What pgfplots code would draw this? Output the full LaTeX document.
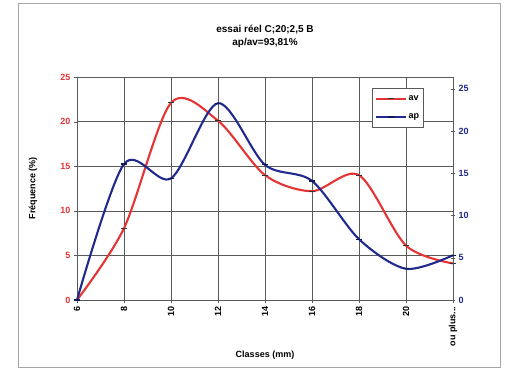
\documentclass[border=0pt]{standalone}
\usepackage{pgfplots}
\pgfplotsset{compat=1.18}
\usepackage{fontspec}
\setmainfont{Liberation Sans}
\definecolor{avred}{RGB}{228,52,52}
\definecolor{apblue}{RGB}{32,42,140}
\definecolor{gridc}{RGB}{90,90,90}
\begin{document}
\begin{tikzpicture}[x=1pt,y=1pt]
\useasboundingbox (0,0) rectangle (518,376);
\draw[gray!70, line width=0.8pt] (18,9) rectangle (500,373);
\node[align=center, font=\fontsize{10}{13}\selectfont\bfseries] at (265,340) {essai réel C;20;2,5 B\\ap/av=93,81\%};
\node[font=\fontsize{9}{11}\selectfont\bfseries] at (265,21) {Classes (mm)};
\node[font=\fontsize{9}{11}\selectfont\bfseries, rotate=90] at (33,188) {Fréquence (\%)};
\begin{axis}[
  at={(77pt,76pt)}, anchor=south west,
  scale only axis, width=376pt, height=223pt,
  xmin=0, xmax=8, ymin=0, ymax=25,
  xtick={0,1,2,3,4,5,6,7,8},
  xticklabels={6,8,10,12,14,16,18,20,{ou plus{.}{.}{.}}},
  xticklabel style={rotate=90, anchor=east, font=\fontsize{9}{11}\selectfont\bfseries},
  ytick={0,5,10,15,20,25},
  yticklabel style={font=\fontsize{9}{11}\selectfont\bfseries, text=avred},
  /pgf/number format/assume math mode=true,
  grid=major, grid style={gridc, line width=0.5pt},
  axis line style={gridc, line width=0.6pt},
  tick style={gridc},
  major tick length=3pt,
  tick align=outside,
  axis x line*=bottom, axis y line*=left,
  clip=false,
]
\draw[gridc, line width=0.6pt] (axis cs:0,25) -- (axis cs:8,25);
\addplot[avred, line width=2.1pt, smooth, tension=0.5, mark=-, mark size=3pt, mark options={black!80, line width=1.2pt}]
  coordinates {(0,0) (1,8.05) (2,22.1) (3,20.1) (4,14.0) (5,12.2) (6,14.0) (7,6.1) (8,4.1)};
\end{axis}
\begin{axis}[
  at={(77pt,76pt)}, anchor=south west,
  scale only axis, width=376pt, height=223pt,
  xmin=0, xmax=8, ymin=0, ymax=26.4,
  axis x line=none,
  axis y line*=right,
  ytick={0,5,10,15,20,25},
  yticklabel style={font=\fontsize{9}{11}\selectfont\bfseries, text=apblue},
  /pgf/number format/assume math mode=true,
  axis line style={gridc, line width=0.6pt},
  tick style={gridc}, major tick length=4pt, tick align=center,
  legend style={at={(0.785,0.95)}, anchor=north west, draw=gridc, line width=0.8pt, font=\fontsize{9}{11}\selectfont\bfseries, row sep=8pt, inner xsep=2pt, inner ysep=5pt, fill=white},
  legend image code/.code={\draw[#1] (0pt,0pt) -- (30pt,0pt); \draw[#1, only marks] plot coordinates {(15pt,0pt)};},
  legend cell align=left,
  clip=false,
]
\addlegendimage{avred, line width=2.1pt, mark=-, mark size=3pt, mark options={black!80, line width=1.2pt}}
\addlegendentry{av}
\addplot[apblue, line width=2.1pt, smooth, tension=0.5, mark=-, mark size=3pt, mark options={apblue!60!black, line width=1.2pt}]
  coordinates {(0,0) (1,16.1) (2,14.4) (3,23.3) (4,16.0) (5,14.1) (6,7.2) (7,3.7) (8,5.3)};
\addlegendentry{ap}
\end{axis}
\end{tikzpicture}
\end{document}
